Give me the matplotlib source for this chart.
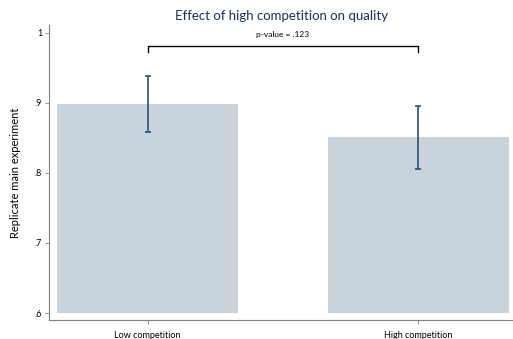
import matplotlib
matplotlib.use("Agg")
from matplotlib import pyplot as plt

# group means and 95% CI bounds
groups = ["Low competition", "High competition"]
means  = [0.898, 0.851]
ci_low = [0.859, 0.805]
ci_high = [0.938, 0.896]
yticks = [0.6, 0.7, 0.8, 0.9, 1.0]
ytick_labels = [".6", ".7", ".8", ".9", "1"]
p_text = "p-value = .123"
bracket_y = 0.981

plt.rcParams["font.family"] = ["Lato", "DejaVu Sans"]

fig = plt.figure(figsize=(5.13, 3.39), dpi=100)
ax = fig.add_axes([0.0955, 0.056, 0.905, 0.870])

x = [1, 2]
base = 0.6
ax.bar(x, [m - base for m in means], bottom=base, width=0.67,
       color="#c9d3dc", zorder=1)

err_lo = [m - lo for m, lo in zip(means, ci_low)]
err_hi = [hi - m for m, hi in zip(means, ci_high)]
ax.errorbar(x, means, yerr=[err_lo, err_hi], fmt="none",
            ecolor="#2a5078", elinewidth=1.2, capsize=2.5, capthick=1.2, zorder=2)

# significance bracket between the two bars
ax.plot([1, 1, 2, 2], [bracket_y - 0.008, bracket_y, bracket_y, bracket_y - 0.008],
        color="black", lw=1.0, zorder=3)
ax.text(1.5, bracket_y + 0.012, p_text, ha="center", va="bottom", fontsize=6)

ax.set_xlim(0.636, 2.35)
ax.set_ylim(0.59, 1.011)
ax.set_yticks(yticks)
ax.set_yticklabels(ytick_labels)
ax.set_xticks(x)
ax.set_xticklabels(groups)

for side in ["top", "right"]:
    ax.spines[side].set_visible(False)
for side in ["left", "bottom"]:
    ax.spines[side].set_color("#7f7f7f")
    ax.spines[side].set_linewidth(0.8)

ax.tick_params(axis="y", labelsize=6.5, length=3, width=0.6, color="#7f7f7f", pad=2)
ax.tick_params(axis="x", labelsize=6.5, length=3, width=0.6, color="#7f7f7f", pad=5)

ax.set_ylabel("Replicate main experiment", fontsize=8, labelpad=10)
ax.set_title("Effect of high competition on quality", fontsize=9.5,
             color="#1e2d5c", pad=4)

fig.savefig("out.png", dpi=100)
